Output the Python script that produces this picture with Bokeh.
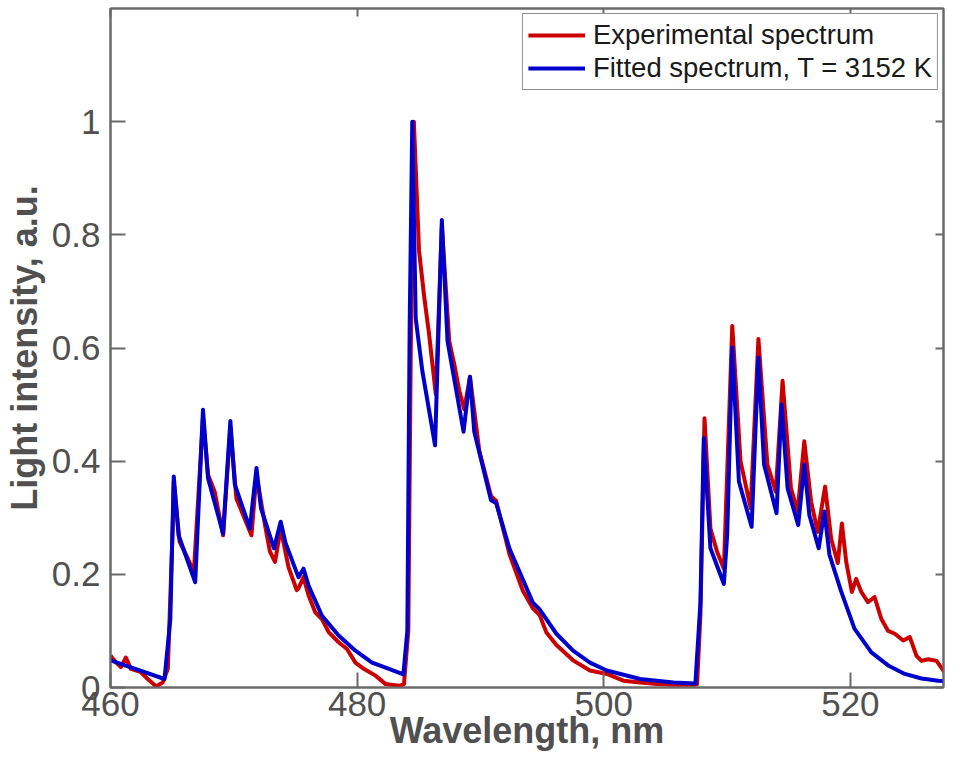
from bokeh.plotting import figure
from bokeh.models import LinearAxis, FixedTicker, Range1d, Legend, LegendItem, CustomLabelingPolicy
from bokeh.embed import file_html
from bokeh.resources import INLINE

# ---- data ----
exp_wl = [460.02, 460.30, 460.84, 461.25, 461.65, 462.47, 463.02, 463.69, 464.24, 464.65,
          465.05, 465.13, 465.60, 466.14, 466.76, 467.50, 467.91, 468.45, 469.13, 469.72,
          470.21, 471.43, 471.84, 472.53, 472.93, 473.34, 473.80, 474.43, 475.10, 475.24,
          475.65, 476.06, 476.60, 477.14, 477.69, 478.50, 479.18, 479.86, 480.54, 481.49,
          482.31, 483.39, 483.80, 484.15, 484.35, 484.60, 485.02, 485.43, 485.83, 486.38,
          486.87, 487.47, 487.87, 488.28, 488.69, 489.15, 489.91, 490.86, 491.27, 492.36,
          493.44, 494.25, 494.80, 495.35, 496.16, 497.51, 498.88, 500.24, 501.59, 502.95,
          504.31, 505.64, 507.43, 507.57, 507.84, 508.17, 508.65, 509.19, 509.74, 510.42,
          511.09, 511.91, 512.54, 513.27, 513.95, 514.50, 515.18, 515.72, 516.26, 516.81,
          517.35, 517.95, 518.44, 518.98, 519.31, 519.66, 520.12, 520.47, 520.88, 521.42,
          521.96, 522.51, 523.06, 523.60, 524.28, 524.82, 525.36, 525.77, 526.32, 526.99,
          527.54, 528.08, 528.48, 529.27]
exp_int = [0.056, 0.048, 0.036, 0.053, 0.033, 0.027, 0.015, 0.002, 0.009, 0.033,
           0.287, 0.364, 0.258, 0.234, 0.204, 0.477, 0.376, 0.346, 0.269, 0.459,
           0.334, 0.269, 0.376, 0.287, 0.240, 0.222, 0.281, 0.213, 0.172, 0.175,
           0.195, 0.163, 0.133, 0.121, 0.098, 0.080, 0.068, 0.044, 0.033, 0.021,
           0.006, 0.003, 0.006, 0.100, 0.600, 1.000, 0.772, 0.692, 0.625, 0.518,
           0.815, 0.612, 0.572, 0.525, 0.492, 0.549, 0.418, 0.338, 0.330, 0.235,
           0.171, 0.140, 0.128, 0.097, 0.075, 0.048, 0.030, 0.024, 0.012, 0.009,
           0.006, 0.005, 0.005, 0.006, 0.130, 0.476, 0.281, 0.240, 0.210, 0.639,
           0.400, 0.317, 0.616, 0.394, 0.346, 0.542, 0.352, 0.311, 0.435, 0.329,
           0.275, 0.355, 0.263, 0.220, 0.290, 0.222, 0.169, 0.192, 0.169, 0.151,
           0.160, 0.121, 0.100, 0.095, 0.083, 0.089, 0.056, 0.047, 0.050, 0.047,
           0.030, 0.027, 0.030, 0.018]

fit_wl = [460.00, 464.38, 464.85, 465.13, 465.52, 466.87, 467.50, 467.91, 469.13, 469.72,
          470.08, 471.30, 471.84, 472.20, 473.26, 473.80, 474.20, 475.24, 475.65, 476.06,
          477.14, 478.50, 479.86, 481.21, 482.58, 483.75, 484.07, 484.26, 484.47, 484.75,
          485.29, 486.32, 486.87, 487.33, 488.63, 489.15, 489.50, 490.86, 491.27, 492.36,
          494.25, 494.80, 496.16, 497.51, 498.88, 500.24, 502.95, 505.66, 507.43, 507.84,
          508.11, 508.65, 509.74, 510.01, 510.42, 510.96, 511.99, 512.54, 513.00, 514.01,
          514.42, 514.91, 515.77, 516.26, 516.67, 517.43, 517.89, 518.30, 519.25, 520.33,
          521.70, 523.06, 524.41, 525.77, 527.13, 529.27]
fit_int = [0.048, 0.015, 0.120, 0.373, 0.269, 0.186, 0.491, 0.370, 0.272, 0.471,
           0.359, 0.281, 0.388, 0.317, 0.246, 0.293, 0.255, 0.195, 0.210, 0.180,
           0.127, 0.092, 0.065, 0.044, 0.033, 0.023, 0.100, 0.639, 1.000, 0.652,
           0.559, 0.428, 0.826, 0.612, 0.452, 0.549, 0.452, 0.331, 0.326, 0.245,
           0.150, 0.138, 0.095, 0.065, 0.044, 0.030, 0.015, 0.009, 0.007, 0.151,
           0.441, 0.246, 0.183, 0.270, 0.601, 0.364, 0.284, 0.583, 0.394, 0.308,
           0.500, 0.352, 0.287, 0.394, 0.305, 0.246, 0.311, 0.235, 0.170, 0.104,
           0.062, 0.039, 0.024, 0.016, 0.012, 0.009]

x_ticks = [460, 480, 500, 520]
y_ticks = [0, 0.2, 0.4, 0.6, 0.8, 1.0]
y_tick_labels = ["0", "0.2", "0.4", "0.6", "0.8", "1"]

series_labels = ["Experimental spectrum", "Fitted spectrum, T = 3152 K"]
series_colors = ["#cc0000", "#0000cc"]

FONT = "Liberation Sans"
TXT = "#505050"
AX = "#6a6a6a"

p = figure(width=947, height=753, x_range=Range1d(460, 527.55), y_range=Range1d(0, 1.2),
           output_backend="svg", toolbar_location=None,
           min_border_left=108, min_border_right=0, min_border_top=8, min_border_bottom=0)
p.xaxis.visible = False
p.yaxis.visible = False
p.xgrid.visible = False
p.ygrid.visible = False
p.outline_line_color = AX
p.outline_line_width = 2

r_exp = p.line(exp_wl, exp_int, line_color=series_colors[0], line_width=4, line_join="round")
r_fit = p.line(fit_wl, fit_int, line_color=series_colors[1], line_width=4, line_join="round")

no_labels = CustomLabelingPolicy(code="for (const i of indices) { if (i < 0) { yield i } }")

def style(ax, labels=True, tick_len=15):
    ax.axis_line_color = AX
    ax.axis_line_width = 2
    ax.major_tick_line_color = AX
    ax.major_tick_line_width = 2
    ax.major_tick_in = tick_len
    ax.major_tick_out = 0
    ax.minor_tick_line_color = None
    if labels:
        ax.major_label_text_font = FONT
        ax.major_label_text_font_size = "35px"
        ax.major_label_text_color = TXT
        ax.axis_label_text_font = FONT
        ax.axis_label_text_font_size = "36px"
        ax.axis_label_text_font_style = "bold"
        ax.axis_label_text_color = TXT
    else:
        ax.major_label_policy = no_labels
        ax.major_label_text_font_size = "1px"
        ax.major_label_standoff = 0

xb = LinearAxis(ticker=FixedTicker(ticks=x_ticks), axis_label="Wavelength, nm")
style(xb)
xb.major_label_standoff = 4
xb.axis_label_standoff = -9
p.add_layout(xb, "below")

yl = LinearAxis(ticker=FixedTicker(ticks=y_ticks), axis_label="Light intensity, a.u.")
style(yl)
yl.major_label_overrides = dict(zip(y_ticks, y_tick_labels))
yl.major_label_standoff = 10
yl.axis_label_standoff = 4
p.add_layout(yl, "left")

xt = LinearAxis(ticker=FixedTicker(ticks=x_ticks))
style(xt, labels=False, tick_len=8)
p.add_layout(xt, "above")

yr = LinearAxis(ticker=FixedTicker(ticks=y_ticks))
style(yr, labels=False, tick_len=8)
p.add_layout(yr, "right")

legend = Legend(items=[LegendItem(label=series_labels[0], renderers=[r_exp]),
                       LegendItem(label=series_labels[1], renderers=[r_fit])],
                location="top_right")
legend.label_text_font = FONT
legend.label_text_font_size = "27.5px"
legend.label_text_color = "#1a1a1a"
legend.border_line_color = "#262626"
legend.border_line_width = 1.5
legend.background_fill_color = "white"
legend.background_fill_alpha = 1
legend.glyph_width = 57
legend.glyph_height = 30
legend.label_height = 30
legend.label_standoff = 8
legend.spacing = 1
legend.padding = 5
legend.margin = 5
p.add_layout(legend)

open("out.html", "w").write(file_html(p, INLINE))
